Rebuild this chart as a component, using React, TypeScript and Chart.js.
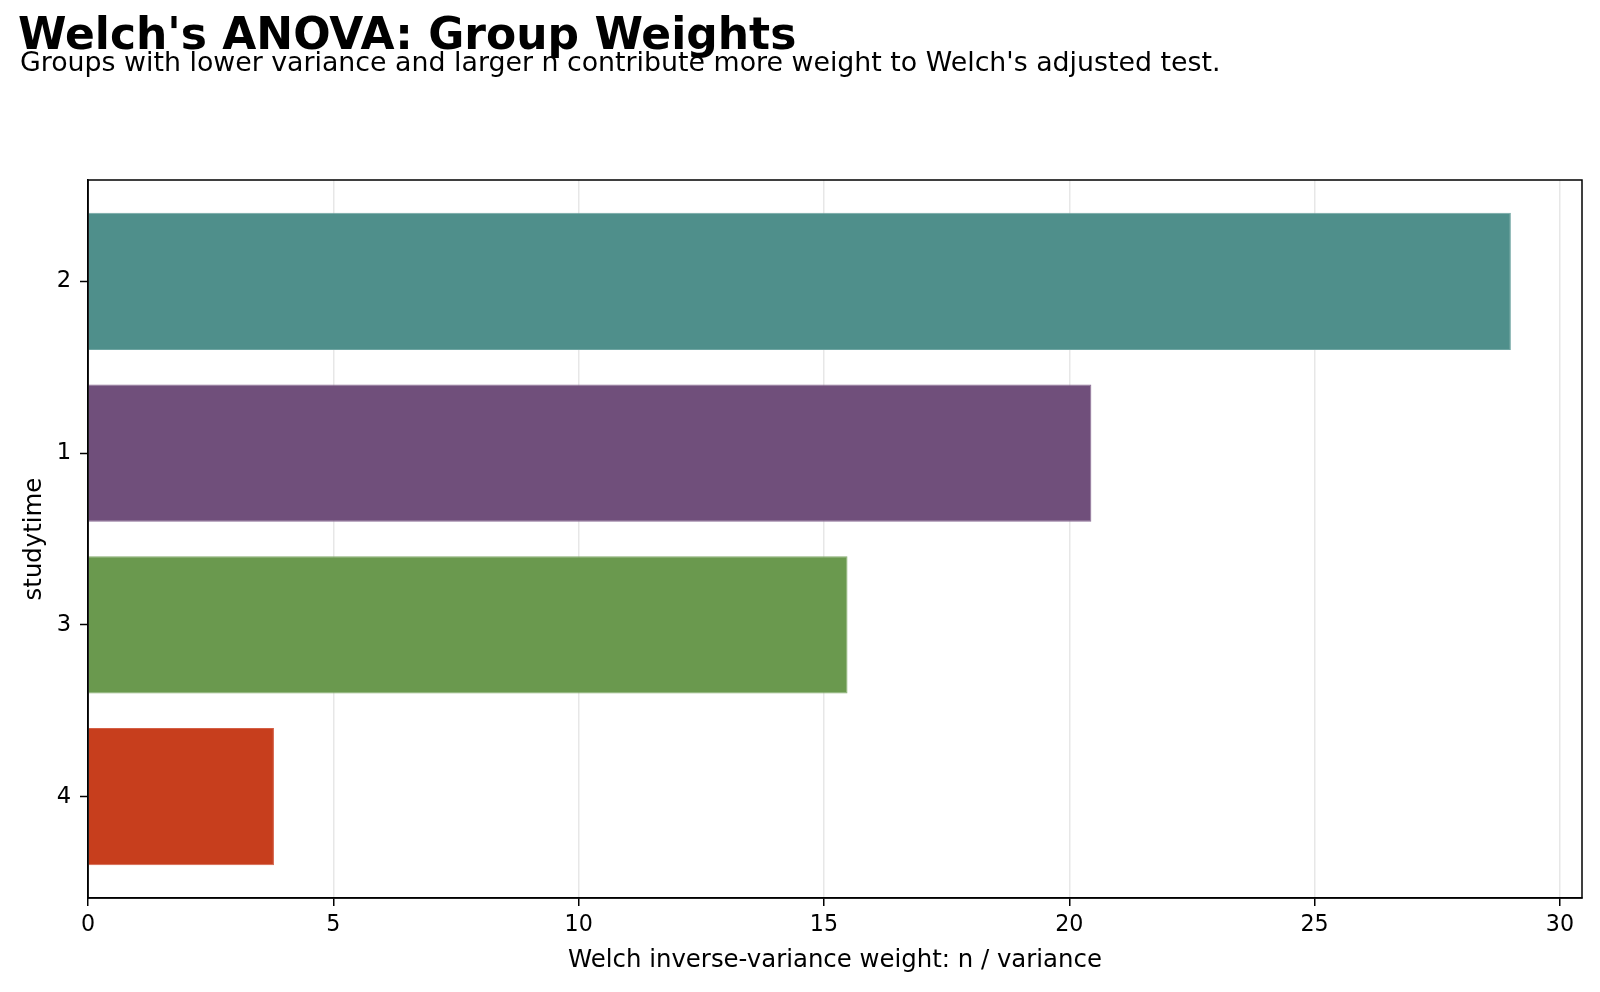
import React, { useEffect, useRef } from "react";
import { Chart, registerables } from "chart.js";

Chart.register(...registerables);

const groups = ["2", "1", "3", "4"];
const weights = [29.0, 20.45, 15.48, 3.79];
const barColors = ["#4F8F8B", "#704F7B", "#6A994E", "#C73E1D"];
const barEdges = ["#6FA5A2", "#8A6C95", "#85AD6E", "#D45F45"];
const xTicks = [0, 5, 10, 15, 20, 25, 30];
const titleText = "Welch's ANOVA: Group Weights";
const subtitleText =
  "Groups with lower variance and larger n contribute more weight to Welch's adjusted test.";
const xLabel = "Welch inverse-variance weight: n / variance";
const yLabel = "studytime";

const FONT = "'DejaVu Sans', 'Liberation Sans', sans-serif";

const decor = {
  id: "decor",
  afterDraw(chart: any) {
    const { ctx, chartArea: a } = chart;
    ctx.save();
    ctx.strokeStyle = "#000";
    ctx.lineWidth = 1.5;
    ctx.strokeRect(a.left, a.top, a.right - a.left, a.bottom - a.top);
    ctx.fillStyle = "#000";
    ctx.textAlign = "left";
    ctx.textBaseline = "alphabetic";
    ctx.font = `bold 44px ${FONT}`;
    ctx.fillText(titleText, 18, 49);
    ctx.font = `26.8px ${FONT}`;
    ctx.fillText(subtitleText, 20, 71);
    ctx.restore();
  },
};

export default function App() {
  const ref = useRef<HTMLCanvasElement>(null);

  useEffect(() => {
    if (!ref.current) return;
    Chart.defaults.font.family = FONT;
    const chart = new Chart(ref.current, {
      type: "bar",
      data: {
        datasets: [
          {
            data: weights.map((w, i) => ({ x: w, y: i })),
            backgroundColor: barColors,
            borderColor: barEdges,
            borderWidth: 1,
            categoryPercentage: 0.8,
            barPercentage: 1,
          } as any,
        ],
      },
      options: {
        indexAxis: "y",
        responsive: false,
        animation: false,
        layout: { padding: { top: 180, right: 18, left: 0, bottom: 0 } },
        plugins: { legend: { display: false }, tooltip: { enabled: false } },
        scales: {
          x: {
            type: "linear",
            position: "bottom",
            min: 0,
            max: 30.45,
            z: 1,
            afterBuildTicks: (s: any) => {
              s.ticks = xTicks.map((v) => ({ value: v }));
            },
            afterFit: (s: any) => {
              s.height = 94;
            },
            grid: {
              color: "rgba(176,176,176,0.3)",
              lineWidth: 1.5,
              drawTicks: true,
              tickLength: 8,
              tickColor: "#000",
              tickWidth: 1.5,
            },
            border: { display: true, color: "#000", width: 1.5 },
            ticks: {
              padding: 6,
              color: "#000",
              font: { size: 22.2 },
              maxRotation: 0,
              autoSkip: false,
            },
            title: {
              display: true,
              text: xLabel,
              color: "#000",
              font: { size: 24.4 },
              padding: { top: 0, bottom: 17 },
            },
          },
          y: {
            type: "linear",
            min: -0.59,
            max: 3.59,
            reverse: true,
            offset: false,
            afterBuildTicks: (s: any) => {
              s.ticks = groups.map((_, i) => ({ value: i }));
            },
            afterFit: (s: any) => {
              s.width = 88;
            },
            grid: {
              display: true,
              offset: false,
              drawOnChartArea: false,
              drawTicks: true,
              tickLength: 8,
              tickColor: "#000",
              tickWidth: 1.5,
            },
            border: { display: true, color: "#000", width: 1.5 },
            ticks: {
              padding: 9,
              color: "#000",
              font: { size: 22.6 },
              autoSkip: false,
              callback: (v: any) => groups[v] ?? "",
            },
            title: {
              display: true,
              text: yLabel,
              color: "#000",
              font: { size: 24.4 },
              padding: { top: 20, bottom: 0 },
            },
          },
        },
      } as any,
      plugins: [decor],
    });
    return () => chart.destroy();
  }, []);

  return (
    <div style={{ position: "absolute", left: 0, top: 0, width: 1600, height: 992, background: "#fff" }}>
      <canvas ref={ref} width={1600} height={992} style={{ display: "block" }} />
    </div>
  );
}
